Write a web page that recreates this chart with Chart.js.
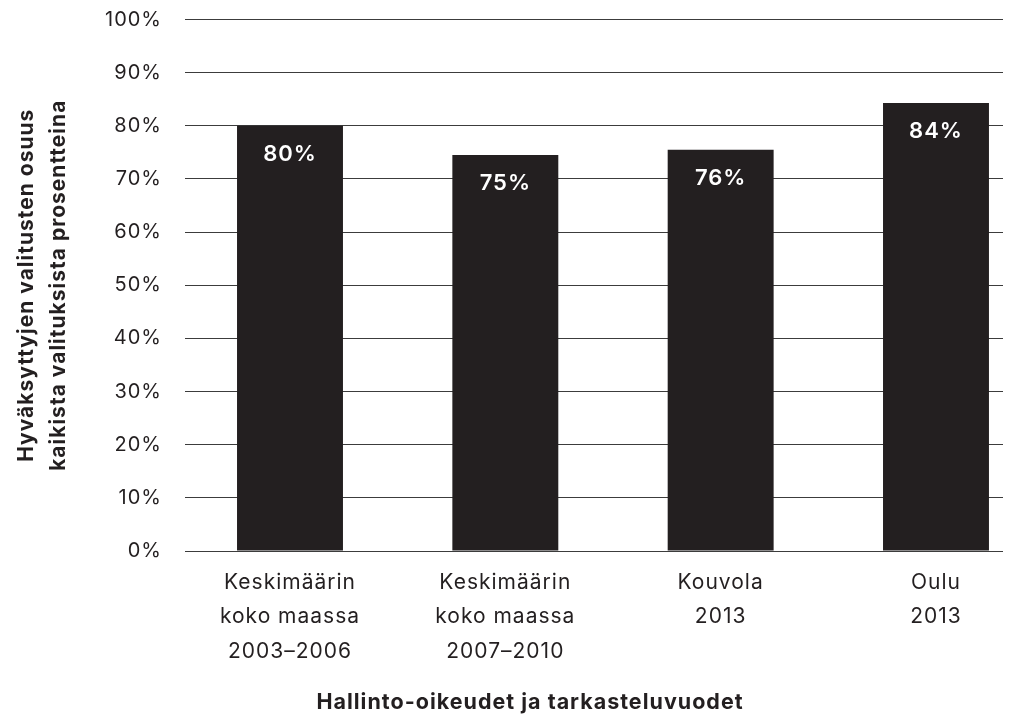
<!DOCTYPE html>
<html>
<head>
<meta charset="utf-8">
<script src="https://cdn.jsdelivr.net/npm/chart.js@4"></script>
<style>
  body { margin: 0; background: #fff; }
  canvas { display: block; }
</style>
</head>
<body>
<canvas id="myChart" width="1014" height="717"></canvas>
<script>
// categories (multi-line tick labels) and share of accepted appeals, %
var categories = [
  ["Keskimäärin", "koko maassa", "2003–2006"],
  ["Keskimäärin", "koko maassa", "2007–2010"],
  ["Kouvola", "2013"],
  ["Oulu", "2013"]
];
var shares = [80, 74.5, 75.5, 84.3];
var yTitle = ["Hyväksyttyjen valitusten osuus", "kaikista valituksista prosentteina"];
var xTitle = "Hallinto-oikeudet ja tarkasteluvuodet";

var ink = "#231f20";
var fontFamily = "Inter, 'Liberation Sans', sans-serif";

// a little tracking on all canvas text
var tracking = {
  id: "tracking",
  beforeInit: function (chart) { chart.ctx.letterSpacing = "1px"; },
  beforeLayout: function (chart) { chart.ctx.letterSpacing = "1px"; },
  beforeDraw: function (chart) { chart.ctx.letterSpacing = "1px"; }
};

// white value labels inside the top of each bar
var barLabels = {
  id: "barLabels",
  afterDatasetsDraw: function (chart) {
    var ctx = chart.ctx;
    var meta = chart.getDatasetMeta(0);
    ctx.save();
    ctx.fillStyle = "#fff";
    ctx.font = "600 22px " + fontFamily;
    ctx.textAlign = "center";
    ctx.textBaseline = "alphabetic";
    meta.data.forEach(function (bar, i) {
      ctx.fillText(Math.round(shares[i]) + "%", bar.x, bar.y + 35);
    });
    ctx.restore();
  }
};

// x axis title sits a bit left of the plot centre
var bottomTitle = {
  id: "bottomTitle",
  afterDraw: function (chart) {
    var ctx = chart.ctx;
    ctx.save();
    ctx.fillStyle = ink;
    ctx.font = "700 21.5px " + fontFamily;
    ctx.textAlign = "center";
    ctx.textBaseline = "alphabetic";
    ctx.fillText(xTitle, 530, 709);
    ctx.restore();
  }
};

var ctx = document.getElementById("myChart").getContext("2d");
var chart = new Chart(ctx, {
  type: "bar",
  data: {
    datasets: [{
      data: shares.map(function (v, i) { return { x: i, y: v }; }),
      backgroundColor: ink,
      borderWidth: 0,
      categoryPercentage: 1,
      barPercentage: 0.492
    }]
  },
  options: {
    responsive: false,
    animation: false,
    devicePixelRatio: 1,
    layout: { padding: { top: 19.5, right: 11, left: 0, bottom: 0 } },
    plugins: {
      legend: { display: false },
      tooltip: { enabled: false }
    },
    scales: {
      x: {
        type: "linear",
        offset: false,
        min: -0.4876,
        max: 3.3112,
        grid: { display: false, drawTicks: false },
        border: { display: false },
        afterBuildTicks: function (scale) {
          scale.ticks = categories.map(function (c, i) { return { value: i }; });
        },
        ticks: {
          color: ink,
          padding: 14,
          maxRotation: 0,
          autoSkip: false,
          font: { family: fontFamily, size: 21, lineHeight: 1.65 },
          callback: function (v) { return categories[v]; }
        },
        afterFit: function (scale) {
          scale.height = 166;
          scale.paddingLeft = 0;
          scale.paddingRight = 0;
        }
      },
      y: {
        min: 0,
        max: 100,
        grid: {
          color: "#3c3c3c",
          lineWidth: 1,
          drawTicks: true,
          tickLength: 23,
          tickColor: "rgba(0,0,0,0)"
        },
        border: { display: false },
        ticks: {
          stepSize: 10,
          color: ink,
          padding: 0,
          font: { family: fontFamily, size: 20 },
          callback: function (v) { return v + "%"; }
        },
        title: {
          display: true,
          text: yTitle,
          color: ink,
          padding: { top: 11, bottom: 0 },
          font: { family: fontFamily, size: 21, weight: "700", lineHeight: 1.5 }
        },
        afterFit: function (scale) { scale.width = 185; }
      }
    }
  },
  plugins: [tracking, barLabels, bottomTitle]
});
</script>
</body>
</html>
